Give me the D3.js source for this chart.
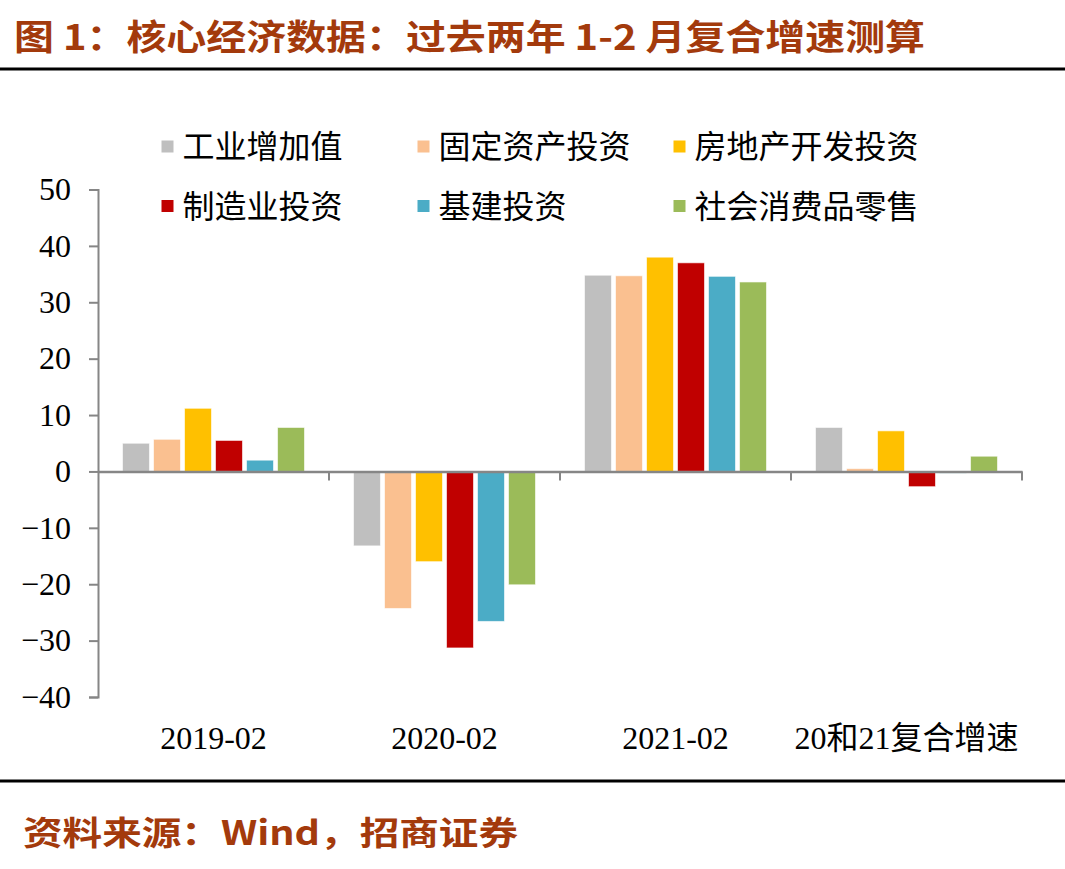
<!DOCTYPE html>
<html><head><meta charset="utf-8">
<script src="https://cdn.jsdelivr.net/npm/d3@7/dist/d3.min.js"></script>
<style>html,body{margin:0;padding:0;background:#fff;}</style>
</head><body>
<script>
const categories = ["2019-02", "2020-02", "2021-02", "20和21复合增速"];
const seriesNames = ["工业增加值", "固定资产投资", "房地产开发投资", "制造业投资", "基建投资", "社会消费品零售"];
const seriesColors = ["#BFBFBF", "#FAC090", "#FFC000", "#C00000", "#4BACC6", "#9BBB59"];
const industrial = [5.0, -13.2, 34.8, 7.8];
const fixedAsset = [5.7, -24.3, 34.7, 0.5];
const realEstate = [11.2, -16.0, 38.0, 7.2];
const manufacturing = [5.5, -31.3, 37.0, -2.7];
const infrastructure = [2.0, -26.6, 34.6, -0.3];
const retail = [7.8, -20.1, 33.6, 2.7];
const seriesValues = [industrial, fixedAsset, realEstate, manufacturing, infrastructure, retail];
const yTicks = [50, 40, 30, 20, 10, 0, -10, -20, -30, -40];
const titleText = "图 1：核心经济数据：过去两年 1-2 月复合增速测算";
const sourceText = "资料来源：Wind，招商证券";

const W = 1065, H = 869;
const svg = d3.select("body").append("svg").attr("width", W).attr("height", H);
const brown = "#A33A0C";
const cjkSans = "'Noto Sans CJK SC', sans-serif";
const serif = "'Liberation Serif', 'Noto Sans CJK SC', serif";

// Title
svg.append("text").attr("x", 14).attr("y", 50)
  .attr("font-family", cjkSans).attr("font-weight", "bold").attr("font-size", 35)
  .attr("fill", brown).attr("textLength", 911).attr("lengthAdjust", "spacingAndGlyphs")
  .text(titleText);
svg.append("line").attr("x1", 0).attr("x2", W).attr("y1", 69).attr("y2", 69)
  .attr("stroke", "#000").attr("stroke-width", 3);
svg.append("line").attr("x1", 0).attr("x2", W).attr("y1", 781).attr("y2", 781)
  .attr("stroke", "#000").attr("stroke-width", 3);
svg.append("text").attr("x", 23).attr("y", 845)
  .attr("font-family", cjkSans).attr("font-weight", "bold").attr("font-size", 33)
  .attr("fill", brown).attr("textLength", 495).attr("lengthAdjust", "spacingAndGlyphs")
  .text(sourceText);

// Scales
const x0 = d3.scaleBand().domain(categories).range([98, 1022]).paddingInner(0).paddingOuter(0);
const bw = x0.bandwidth();
const x1 = d3.scaleBand().domain(seriesNames).range([24.5, bw - 24.5]).paddingInner(0.13).paddingOuter(0);
const y = d3.scaleLinear().domain([-40, 50]).range([697, 189.5]);

// Bars
const g = svg.append("g");
seriesNames.forEach((s, si) => {
  g.selectAll(null).data(seriesValues[si].map((v, ci) => ({v, c: categories[ci]})))
    .enter().append("rect")
    .attr("x", d => x0(d.c) + x1(s))
    .attr("width", x1.bandwidth())
    .attr("y", d => y(Math.max(0, d.v)))
    .attr("height", d => Math.abs(y(d.v) - y(0)))
    .attr("fill", seriesColors[si])
    .attr("stroke", "rgba(255,255,255,0.6)").attr("stroke-width", 1);
});

const axisColor = "#868686";
// Y axis
const yAxis = svg.append("g").attr("transform", "translate(98,0)")
  .call(d3.axisLeft(y).tickValues(yTicks).tickSize(9).tickPadding(18).tickFormat(d3.format("d")));
yAxis.select(".domain").attr("stroke", axisColor).attr("stroke-width", 2);
yAxis.selectAll(".tick line").attr("stroke", axisColor).attr("stroke-width", 2);
yAxis.selectAll(".tick text").attr("font-family", serif).attr("font-size", 32).attr("fill", "#000");

// X axis at zero
const xAxis = svg.append("g").attr("transform", `translate(0,${y(0)})`)
  .call(d3.axisBottom(x0).tickSize(0).tickFormat(""));
xAxis.select(".domain").attr("stroke", axisColor).attr("stroke-width", 2.5);
const boundaries = categories.map(c => x0(c) + bw);
svg.append("g").selectAll("line").data(boundaries).enter().append("line")
  .attr("x1", d => d).attr("x2", d => d).attr("y1", y(0)).attr("y2", y(0) + 9)
  .attr("stroke", axisColor).attr("stroke-width", 2);

// Category labels
svg.append("g").selectAll("text").data(categories).enter().append("text")
  .attr("x", d => x0(d) + bw / 2).attr("y", 749)
  .attr("text-anchor", "middle").attr("font-family", serif).attr("font-size", 32).attr("fill", "#000")
  .text(d => d);

// Legend
const legX = [161.5, 417.5, 673.5];
const legY = [146.5, 206];
const leg = svg.append("g");
seriesNames.forEach((s, i) => {
  const lx = legX[i % 3], ly = legY[Math.floor(i / 3)];
  leg.append("rect").attr("x", lx).attr("y", ly - 6).attr("width", 12).attr("height", 12).attr("fill", seriesColors[i]);
  leg.append("text").attr("x", lx + 21).attr("y", ly).attr("dy", "0.36em")
    .attr("font-family", cjkSans).attr("font-size", 32).attr("fill", "#000").text(s);
});
</script>
</body></html>
